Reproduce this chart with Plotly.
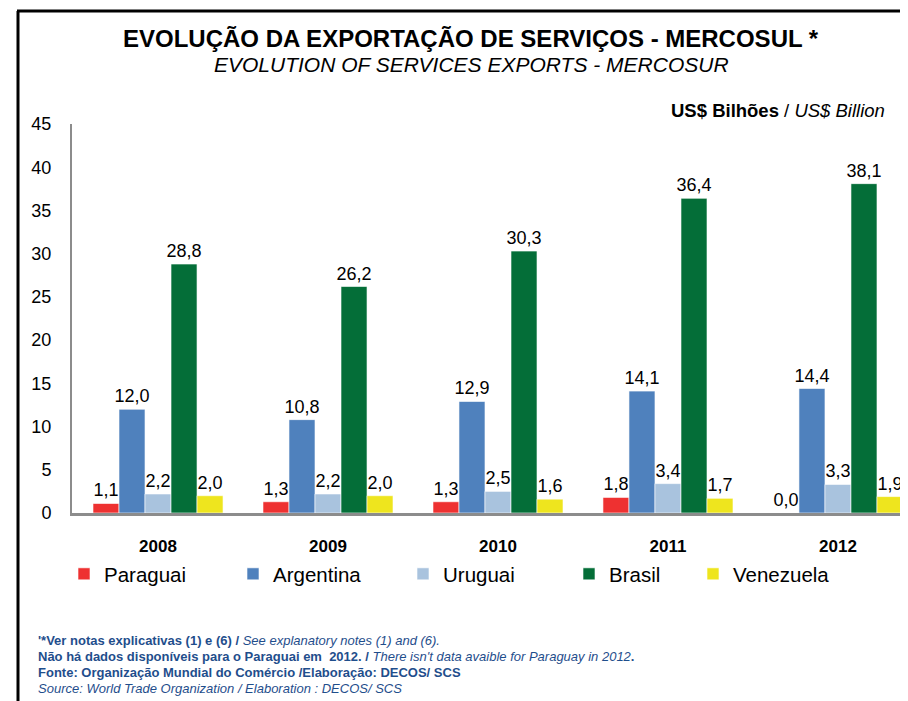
import plotly.graph_objects as go

# data
years = ["2008", "2009", "2010", "2011", "2012"]
paraguai = [1.1, 1.3, 1.3, 1.8, 0.0]
argentina = [12.0, 10.8, 12.9, 14.1, 14.4]
uruguai = [2.2, 2.2, 2.5, 3.4, 3.3]
brasil = [28.8, 26.2, 30.3, 36.4, 38.1]
venezuela = [2.0, 2.0, 1.6, 1.7, 1.9]

series = [
    ("Paraguai", paraguai, "#EE3131"),
    ("Argentina", argentina, "#4F81BD"),
    ("Uruguai", uruguai, "#A9C3DE"),
    ("Brasil", brasil, "#046E38"),
    ("Venezuela", venezuela, "#EEE51E"),
]

W, H = 908, 701
OFF = 8                          # page body margin
L, R, T, B = 72, 916, 124, 513   # plot area in page pixels
FONT = "Arial, Liberation Sans, sans-serif"
NOTE = "#1F4E8C"


def px(x):
    return (x - L) / (R - L)


def py(y):
    return (B - y) / (B - T)


fig = go.Figure()
for i, (name, vals, color) in enumerate(series):
    lg = "legend" if i == 0 else f"legend{i + 1}"
    fig.add_trace(go.Bar(
        x=years, y=vals, name=name,
        marker=dict(color=color, line=dict(color="white", width=0.6)),
        text=vals, texttemplate="%{y:.1f}", textposition="outside",
        textfont=dict(size=18, color="black", family=FONT),
        constraintext="none", cliponaxis=False, legend=lg,
    ))

legend_sq = [84, 253, 423, 589, 713]   # left edge of each legend square
legends = {}
for i, sq in enumerate(legend_sq):
    key = "legend" if i == 0 else f"legend{i + 1}"
    legends[key] = dict(
        x=px(sq - 20), y=py(574), xanchor="left", yanchor="middle",
        orientation="h", font=dict(size=20.5, family=FONT, color="black"),
        bgcolor="rgba(0,0,0,0)", itemwidth=30,
    )

fig.update_layout(
    width=W, height=H,
    margin=dict(l=L - OFF, r=W - (R - OFF), t=T - OFF, b=H - (B - OFF)),
    paper_bgcolor="white", plot_bgcolor="white",
    barmode="group", bargap=0.235, bargroupgap=0,
    separators=",.",
    font=dict(family=FONT, color="black"),
    showlegend=True,
    **legends,
)

fig.update_xaxes(
    range=[-0.506, 4.459], showline=True, linecolor="#8C8C8C", linewidth=3,
    ticks="", ticklabelstandoff=16,
    tickfont=dict(size=17, family=FONT),
    tickvals=years, ticktext=[f"<b>{y}</b>" for y in years],
)
fig.update_yaxes(
    range=[0, 45], dtick=5, showgrid=False, zeroline=False,
    showline=True, linecolor="#8C8C8C", linewidth=2,
    ticks="", ticklabelstandoff=15,
    tickfont=dict(size=18, family=FONT),
)

# frame
fig.add_shape(type="line", xref="paper", yref="paper",
              x0=px(18), x1=px(18), y0=py(11), y1=py(H + 20),
              line=dict(color="black", width=3))
fig.add_shape(type="line", xref="paper", yref="paper",
              x0=px(17), x1=px(W + 20), y0=py(11), y1=py(11),
              line=dict(color="black", width=3))

ann = [
    dict(x=px(471), y=py(39), text="<b>EVOLUÇÃO DA EXPORTAÇÃO DE SERVIÇOS - MERCOSUL *</b>",
         font=dict(size=24), xanchor="center"),
    dict(x=px(471), y=py(64), text="<i>EVOLUTION OF SERVICES EXPORTS - MERCOSUR</i>",
         font=dict(size=21), xanchor="center"),
    dict(x=px(887), y=py(110), text="<b>US$ Bilhões</b> / <i>US$ Billion</i>",
         font=dict(size=18.5), xanchor="right"),
]
notes = [
    "<b>'*Ver notas explicativas (1) e (6) /</b> <i>See explanatory notes (1) and (6).</i>",
    "<b>Não há dados disponíveis para o Paraguai em  2012. /</b> <i>There isn't data avaible for Paraguay in 2012</i><b>.</b>",
    "<b>Fonte: Organização Mundial do Comércio /Elaboração: DECOS/ SCS</b>",
    "<i>Source: World Trade Organization / Elaboration : DECOS/ SCS</i>",
]
for i, t in enumerate(notes):
    ann.append(dict(x=px(36), y=py(640 + 16 * i), text=t, xanchor="left",
                    font=dict(size=13, color=NOTE)))
for a in ann:
    a.update(xref="paper", yref="paper", yanchor="middle", showarrow=False)
    fig.add_annotation(**a)

fig.write_html("out.html")
